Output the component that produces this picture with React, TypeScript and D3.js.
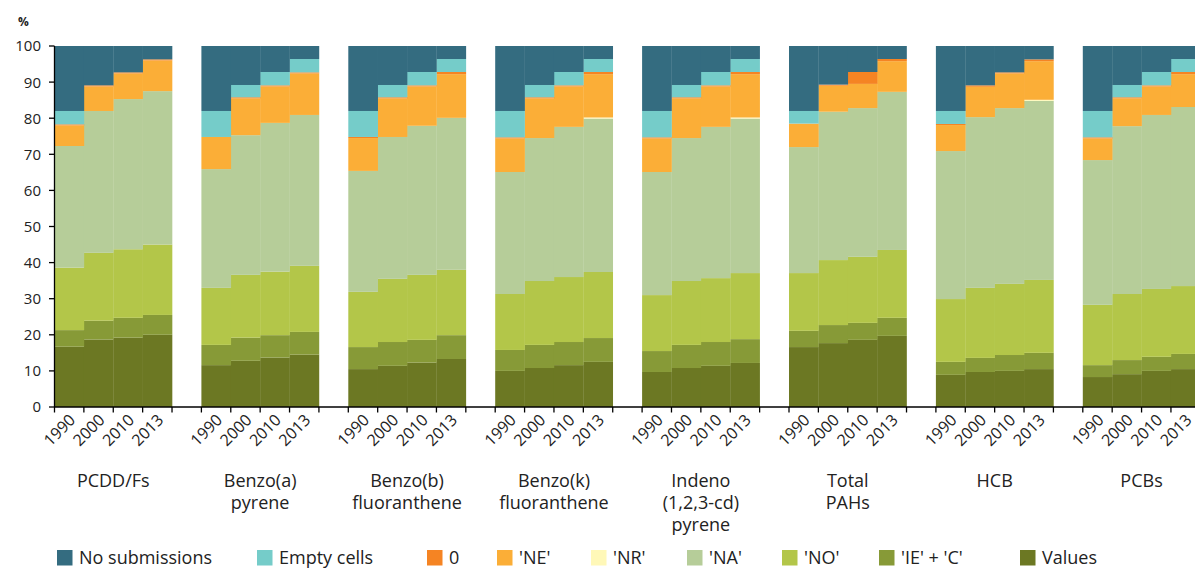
import React from "react";
import * as d3 from "d3";

const groups = [
  ["PCDD/Fs"],
  ["Benzo(a)", "pyrene"],
  ["Benzo(b)", "fluoranthene"],
  ["Benzo(k)", "fluoranthene"],
  ["Indeno", "(1,2,3-cd)", "pyrene"],
  ["Total", "PAHs"],
  ["HCB"],
  ["PCBs"],
];
const years = ["1990", "2000", "2010", "2013"];
const yTicks = [0, 10, 20, 30, 40, 50, 60, 70, 80, 90, 100];

// segment values, 8 groups x 4 years
const values = [16.7, 18.7, 19.2, 20.0, 11.6, 12.8, 13.7, 14.5, 10.5, 11.4, 12.3, 13.3, 10.0, 10.8, 11.6, 12.5, 9.7, 10.8, 11.4, 12.2, 16.6, 17.7, 18.6, 19.7, 8.9, 9.7, 10.0, 10.5, 8.3, 9.1, 10.0, 10.5];
const ieC = [4.6, 5.2, 5.5, 5.5, 5.6, 6.4, 6.2, 6.3, 6.1, 6.6, 6.3, 6.6, 5.8, 6.4, 6.4, 6.6, 5.8, 6.4, 6.6, 6.6, 4.5, 5.0, 4.7, 5.0, 3.6, 3.9, 4.4, 4.5, 3.3, 3.9, 3.9, 4.2];
const no = [17.3, 18.8, 19.0, 19.5, 15.8, 17.4, 17.6, 18.3, 15.3, 17.5, 18.0, 18.1, 15.5, 17.7, 18.0, 18.3, 15.5, 17.7, 17.7, 18.3, 16.0, 18.0, 18.3, 18.8, 17.4, 19.4, 19.7, 20.2, 16.7, 18.3, 18.8, 18.8];
const na = [33.7, 39.3, 41.6, 42.5, 32.9, 38.7, 41.2, 41.8, 33.5, 39.3, 41.3, 42.1, 33.8, 39.6, 41.6, 42.5, 34.1, 39.6, 41.9, 42.8, 34.9, 41.1, 41.2, 43.8, 41.0, 47.3, 48.7, 49.6, 40.1, 46.5, 48.2, 49.6];
const nr = [0, 0, 0, 0, 0, 0, 0, 0, 0, 0, 0, 0, 0, 0, 0, 0.3, 0, 0, 0, 0.3, 0, 0, 0, 0, 0, 0, 0, 0.3, 0, 0, 0, 0];
const ne = [5.7, 6.8, 7.1, 8.5, 8.9, 10.2, 10.1, 11.5, 9.1, 10.7, 10.9, 12.1, 9.3, 11.0, 11.2, 12.0, 9.3, 11.0, 11.2, 12.0, 6.5, 7.2, 6.7, 8.5, 7.2, 8.4, 9.6, 10.7, 6.0, 7.7, 7.9, 9.1];
const zero = [0.3, 0.3, 0.3, 0.3, 0, 0.3, 0.3, 0.3, 0.3, 0.3, 0.3, 0.6, 0.3, 0.3, 0.3, 0.6, 0.3, 0.3, 0.3, 0.6, 0, 0.3, 3.3, 0.6, 0.3, 0.4, 0.3, 0.5, 0.3, 0.3, 0.3, 0.6];
const empty = [3.7, 0, 0, 0, 7.2, 3.4, 3.7, 3.7, 7.2, 3.4, 3.7, 3.6, 7.3, 3.4, 3.7, 3.6, 7.3, 3.4, 3.7, 3.6, 3.5, 0, 0, 0, 3.6, 0, 0, 0, 7.3, 3.4, 3.7, 3.6];
const noSub = [18.0, 10.9, 7.3, 3.7, 18.0, 10.8, 7.2, 3.6, 18.0, 10.8, 7.2, 3.6, 18.0, 10.8, 7.2, 3.6, 18.0, 10.8, 7.2, 3.6, 18.0, 10.7, 7.2, 3.6, 18.0, 10.9, 7.3, 3.7, 18.0, 10.8, 7.2, 3.6];

const seriesKeys = ["values", "ieC", "no", "na", "nr", "ne", "zero", "empty", "noSub"];
const seriesData: Record<string, number[]> = { values, ieC, no, na, nr, ne, zero, empty, noSub };
const seriesColors: Record<string, string> = {
  noSub: "#346C80",
  empty: "#75CCC9",
  zero: "#F58423",
  ne: "#FBAE37",
  nr: "#FFF8B8",
  na: "#B6CD99",
  no: "#B3C649",
  ieC: "#879A37",
  values: "#6C7823",
};
const legendKeys = ["noSub", "empty", "zero", "ne", "nr", "na", "no", "ieC", "values"];
const legendLabels = ["No submissions", "Empty cells", "0", "'NE'", "'NR'", "'NA'", "'NO'", "'IE' + 'C'", "Values"];
const legendX = [57, 257, 427, 497, 591, 687, 782, 879, 1020];

const W = 1195;
const H = 568;
const font = "'Open Sans', 'Noto Sans', sans-serif";
const textColor = "#222";

export default function App() {
  // category slots: 4 bars per group plus a gap slot between groups
  const slots: string[] = [];
  const rows: any[] = [];
  groups.forEach((g, gi) => {
    years.forEach((yr, yi) => {
      const id = `${gi}-${yr}`;
      slots.push(id);
      const row: any = { id, gi, yr };
      seriesKeys.forEach((k) => (row[k] = seriesData[k][gi * 4 + yi]));
      rows.push(row);
    });
    if (gi < groups.length - 1) slots.push(`gap${gi}`);
  });

  const x0 = 54.5;
  const step = 29.38;
  const x = d3.scaleBand<string>().domain(slots).range([x0, x0 + step * slots.length]).padding(0);
  const y = d3.scaleLinear().domain([0, 100]).range([407, 46]);
  const stacked = d3.stack<any>().keys(seriesKeys)(rows);

  const boundaries: number[] = [];
  slots.forEach((s) => boundaries.push(x(s)!));
  boundaries.push(x0 + step * slots.length);

  return (
    <div style={{ position: "absolute", left: 0, top: 0 }}>
      <svg width={W} height={H} style={{ display: "block", background: "#fff" }} fontFamily={font}>
        <g>
          {stacked.map((layer) => (
            <g key={layer.key} fill={seriesColors[layer.key]}>
              {layer.map((d, i) =>
                d[1] - d[0] > 0 ? (
                  <rect
                    key={i}
                    x={x(d.data.id)!}
                    width={x.bandwidth() + 0.3}
                    y={y(d[1])}
                    height={y(d[0]) - y(d[1])}
                  />
                ) : null
              )}
            </g>
          ))}
        </g>
        {/* y axis */}
        <line x1={54.5} x2={54.5} y1={46} y2={407} stroke="#000" strokeWidth={1.3} />
        {yTicks.map((t) => (
          <g key={t}>
            <line x1={49} x2={54.5} y1={y(t)} y2={y(t)} stroke="#000" strokeWidth={1.3} />
            <text x={41} y={y(t)} dy="0.36em" textAnchor="end" fontSize={15} fill={textColor}>
              {t}
            </text>
          </g>
        ))}
        <text x={18} y={26} fontSize={12} fontWeight="bold" fill={textColor}>
          %
        </text>
        {/* x axis */}
        <line x1={54} x2={W} y1={407} y2={407} stroke="#000" strokeWidth={1.3} />
        {boundaries.map((b, i) => (
          <line key={i} x1={b} x2={b} y1={407} y2={412.5} stroke="#000" strokeWidth={1.3} />
        ))}
        {rows.map((r) => {
          const cx = x(r.id)! + x.bandwidth() / 2;
          return (
            <text
              key={r.id}
              transform={`translate(${cx - 1},${413}) rotate(-45)`}
              textAnchor="end"
              dy="0.72em"
              fontSize={16}
              fill={textColor}
            >
              {r.yr}
            </text>
          );
        })}
        {groups.map((g, gi) => {
          const start = x(`${gi}-1990`)!;
          const cx = start + step * 2;
          return (
            <text key={gi} textAnchor="middle" fontSize={18} fill={textColor}>
              {g.map((line, li) => (
                <tspan key={li} x={cx} y={487 + li * 22}>
                  {line}
                </tspan>
              ))}
            </text>
          );
        })}
        {/* legend */}
        {legendKeys.map((k, i) => (
          <g key={k}>
            <rect x={legendX[i]} y={550} width={15.5} height={15.5} fill={seriesColors[k]} />
            <text x={legendX[i] + 22} y={563.5} fontSize={18} fill={textColor}>
              {legendLabels[i]}
            </text>
          </g>
        ))}
      </svg>
    </div>
  );
}
